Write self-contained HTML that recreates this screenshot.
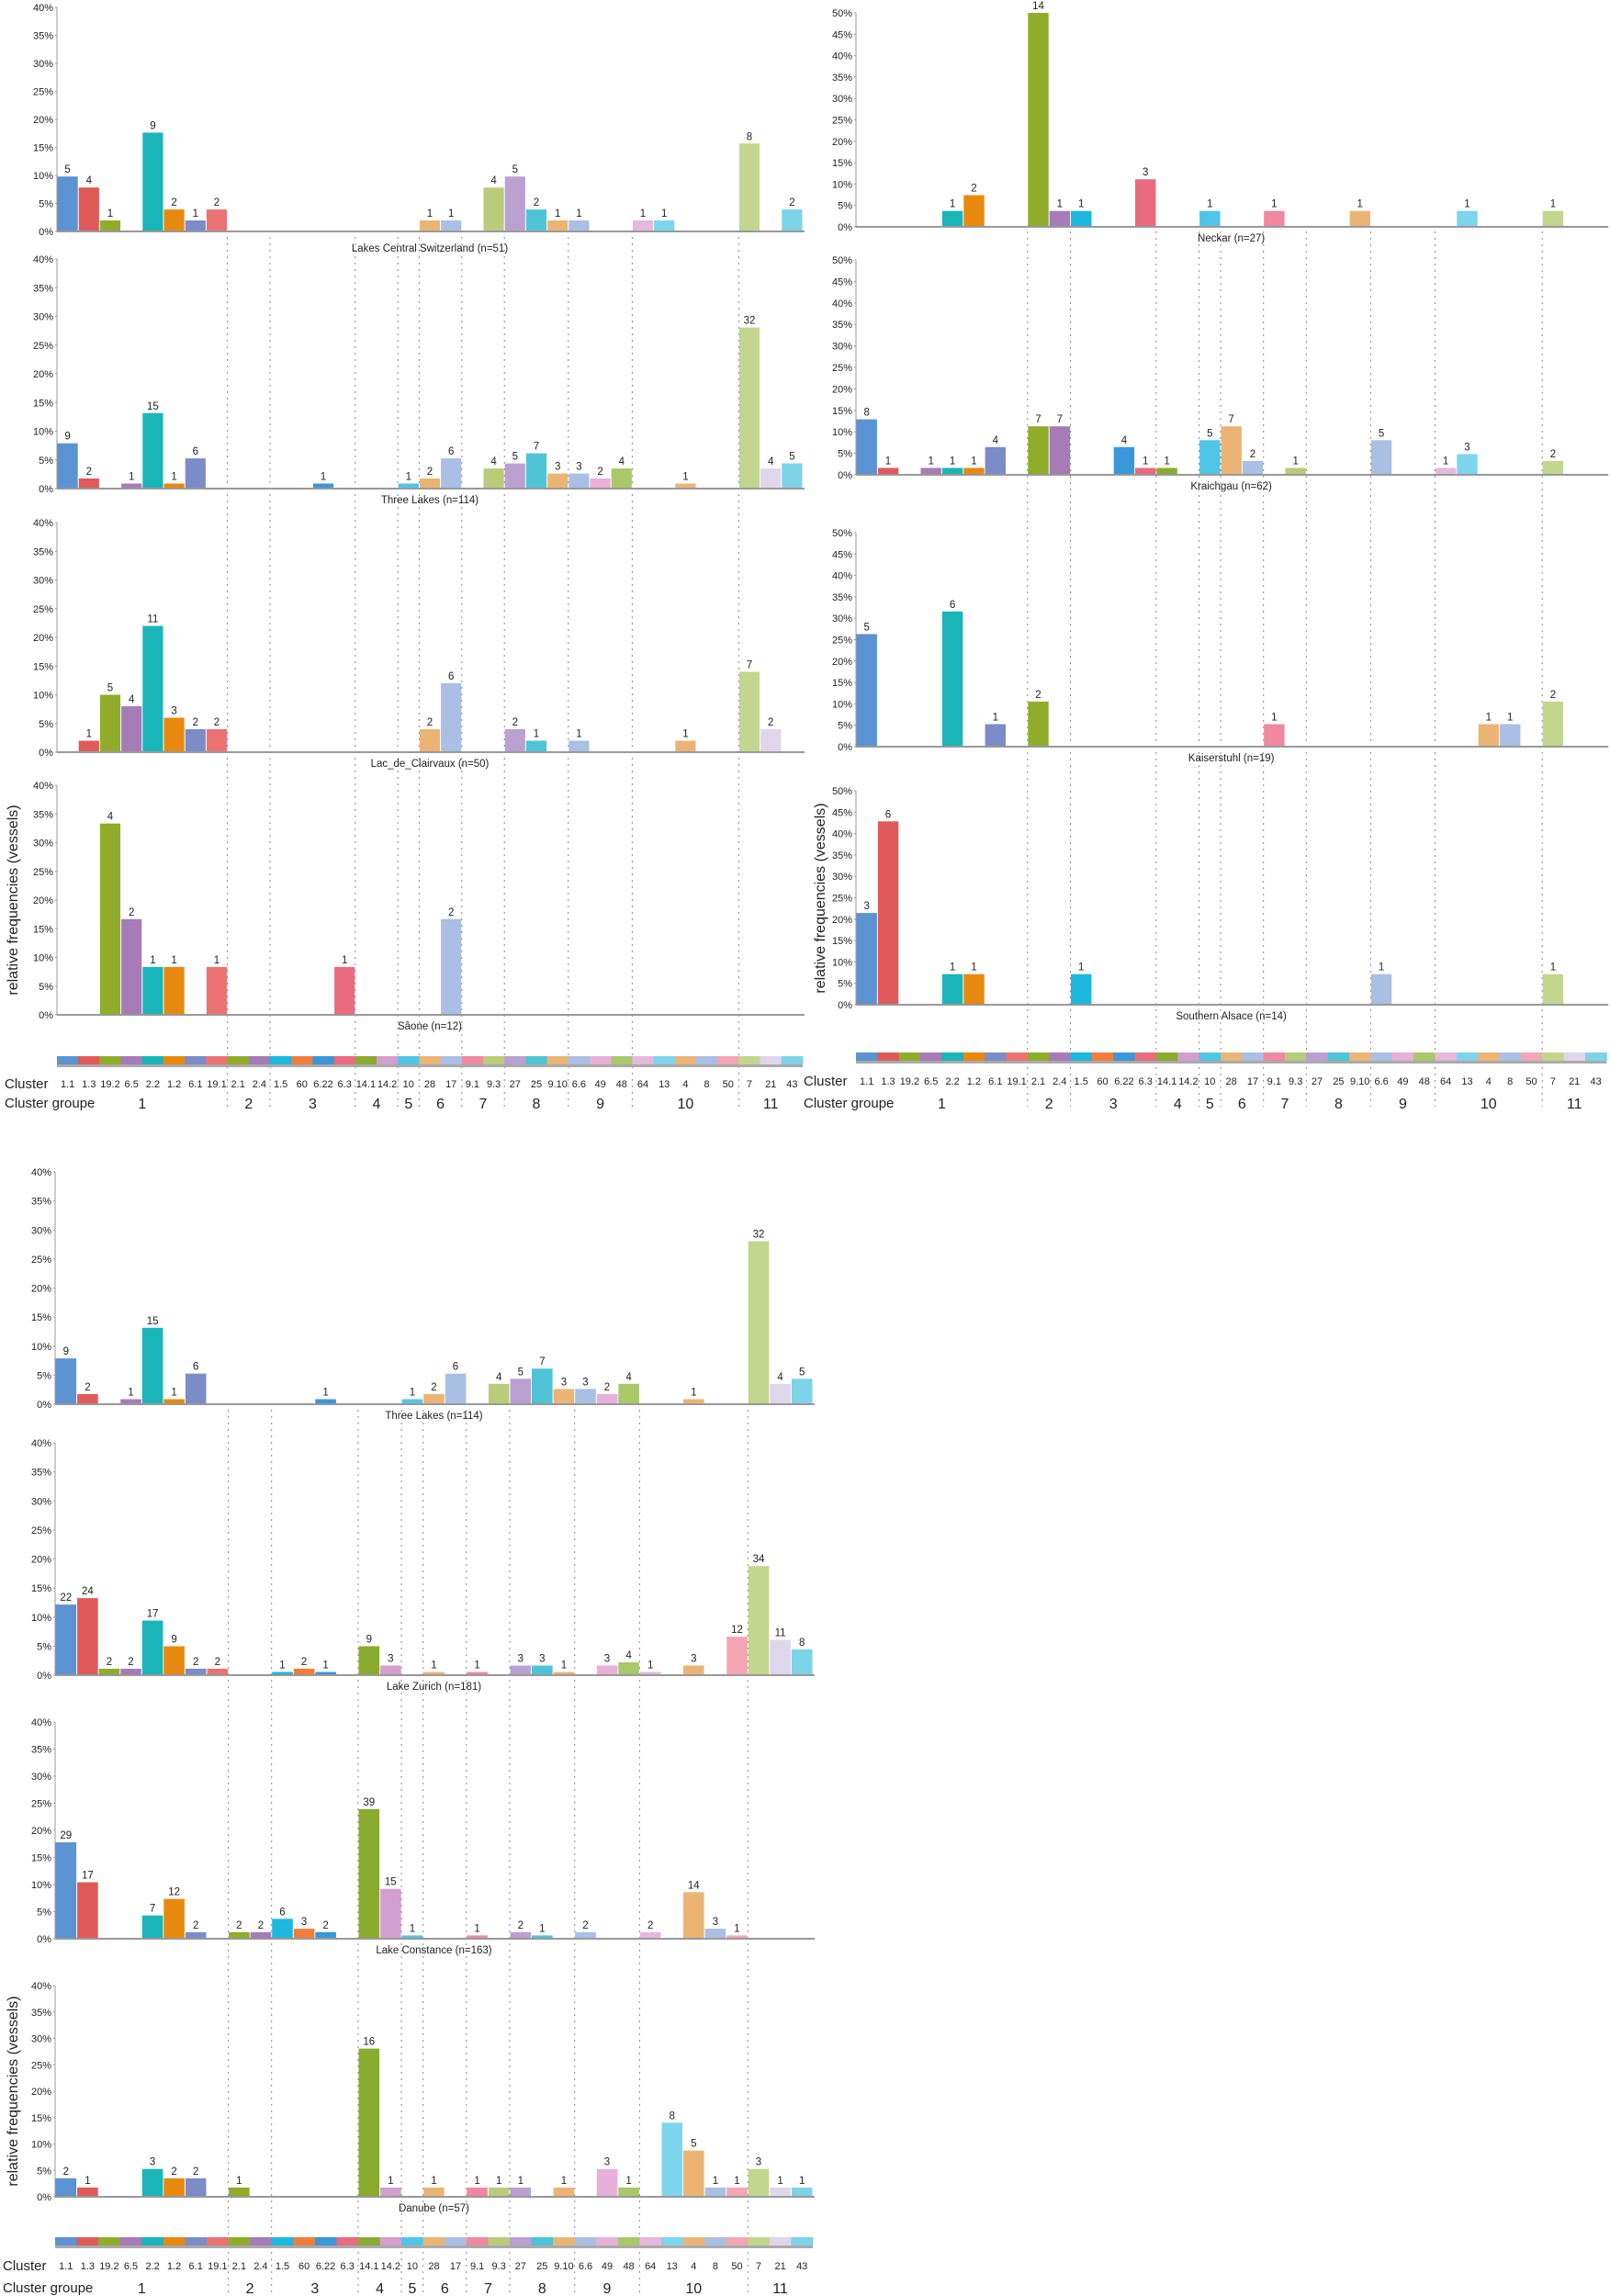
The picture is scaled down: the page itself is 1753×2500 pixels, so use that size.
<!DOCTYPE html>
<html><head><meta charset="utf-8">
<style>
html,body{margin:0;padding:0;background:#fff;}
svg{display:block;font-family:"Liberation Sans",sans-serif;}
</style></head>
<body>
<svg id="s" width="1753" height="2500" viewBox="0 0 1753 2500" xmlns="http://www.w3.org/2000/svg"></svg>
<script>
const C=["#5b93d3","#e05a5a","#8fad2a","#a67bb8","#1ab5b8","#e8890f","#7b8cc8","#ec7272","#8fad2a","#a67bb8","#1cb8de","#f07e3a","#3a97d9","#ea6a7e","#8aab2e","#d29fd0","#4fc5e8","#ecb474","#a9bfe4","#ef88a0","#b9cc7a","#bba0d2","#4ec4d6","#ecb474","#a9bfe4","#e8b0d8","#a8c86a","#e6b8dc","#7dd5ee","#ecb474","#a9bfe4","#f4a6b4","#c2d68e","#e0d6ec","#7dd3e8"];
const L=["1.1","1.3","19.2","6.5","2.2","1.2","6.1","19.1","2.1","2.4","1.5","60","6.22","6.3","14.1","14.2","10","28","17","9.1","9.3","27","25","9.10","6.6","49","48","64","13","4","8","50","7","21","43"];
const GB=[8,10,14,16,17,19,21,24,27,32];
const G=[["1",0,8],["2",8,10],["3",10,14],["4",14,16],["5",16,17],["6",17,19],["7",19,21],["8",21,24],["9",24,27],["10",27,32],["11",32,35]];
const TL={0:9,1:2,3:1,4:15,5:1,6:6,12:1,16:1,17:2,18:6,20:4,21:5,22:7,23:3,24:3,25:2,26:4,29:1,32:32,33:4,34:5};
const cols=[
 {x0:62,bw:23.2,max:40,strip:1150,lab:1179,grp:1200,dt:258,db:1205,ylab:[14,980],panels:[
  ["Lakes Central Switzerland (n=51)",51,8,252,270,{0:5,1:4,2:1,4:9,5:2,6:1,7:2,17:1,18:1,20:4,21:5,22:2,23:1,24:1,27:1,28:1,32:8,34:2}],
  ["Three Lakes (n=114)",114,282,532,544,TL],
  ["Lac_de_Clairvaux (n=50)",50,569,819,831,{1:1,2:5,3:4,4:11,5:3,6:2,7:2,17:2,18:6,21:2,22:1,24:1,29:1,32:7,33:2}],
  ["Sâone (n=12)",12,855,1105,1117,{2:4,3:2,4:1,5:1,7:1,13:1,18:2}]]},
 {x0:932,bw:23.35,max:50,strip:1146,lab:1176,grp:1200,dt:252,db:1205,ylab:[893,978],panels:[
  ["Neckar (n=27)",27,14,247,259,{4:1,5:2,8:14,9:1,10:1,13:3,16:1,19:1,23:1,28:1,32:1}],
  ["Kraichgau (n=62)",62,283,517,529,{0:8,1:1,3:1,4:1,5:1,6:4,8:7,9:7,12:4,13:1,14:1,16:5,17:7,18:2,20:1,24:5,27:1,28:3,32:2}],
  ["Kaiserstuhl (n=19)",19,580,813,825,{0:5,4:6,6:1,8:2,19:1,29:1,30:1,32:2}],
  ["Southern Alsace (n=14)",14,861,1094,1106,{0:3,1:6,4:1,5:1,10:1,24:1,32:1}]]},
 {x0:60,bw:23.57,max:40,strip:2436,lab:2466,grp:2490,dt:1535,db:2497,ylab:[14,2277],panels:[
  ["Three Lakes (n=114)",114,1276,1529,1541,TL],
  ["Lake Zurich (n=181)",181,1571,1824,1836,{0:22,1:24,2:2,3:2,4:17,5:9,6:2,7:2,10:1,11:2,12:1,14:9,15:3,17:1,19:1,21:3,22:3,23:1,25:3,26:4,27:1,29:3,31:12,32:34,33:11,34:8}],
  ["Lake Constance (n=163)",163,1875,2111,2123,{0:29,1:17,4:7,5:12,6:2,8:2,9:2,10:6,11:3,12:2,14:39,15:15,16:1,19:1,21:2,22:1,24:2,27:2,29:14,30:3,31:1}],
  ["Danube (n=57)",57,2162,2392,2404,{0:2,1:1,4:3,5:2,6:2,8:1,14:16,15:1,17:1,19:1,20:1,21:1,23:1,25:3,26:1,28:8,29:5,30:1,31:1,32:3,33:1,34:1}]]}
];
let h='';
function t(x,y,s,sz,a,extra){return `<text x="${x}" y="${y}" font-size="${sz}" text-anchor="${a||'middle'}" fill="#222" ${extra||''}>${s}</text>`;}
for(const c of cols){
 const xe=c.x0+35*c.bw;
 for(const b of GB){const x=(c.x0+b*c.bw).toFixed(1);h+=`<line x1="${x}" y1="${c.dt}" x2="${x}" y2="${c.db}" stroke="#888" stroke-width="1" stroke-dasharray="2,5"/>`;}
 for(const p of c.panels){
  const [title,n,top,base,ty,d]=p;const sc=(base-top)/c.max;
  h+=`<line x1="${c.x0}" y1="${top}" x2="${c.x0}" y2="${base}" stroke="#999" stroke-width="1"/>`;
  for(let v=0;v<=c.max;v+=5){const y=base-v*sc;h+=t(c.x0-4,y+4,v+'%',11,'end');h+=`<line x1="${c.x0-2}" y1="${y}" x2="${c.x0}" y2="${y}" stroke="#999"/>`;}
  for(const k in d){const i=+k,v=Math.min(d[k]/n*100,c.max),hh=v*sc,x=c.x0+i*c.bw;
   h+=`<rect x="${(x+0.5).toFixed(1)}" y="${(base-hh).toFixed(1)}" width="${(c.bw-1).toFixed(1)}" height="${hh.toFixed(1)}" fill="${C[i]}"/>`;
   h+=t((x+c.bw/2).toFixed(1),Math.max(10,(base-hh-4)).toFixed(1),d[k],11.5);}
  h+=`<line x1="${c.x0}" y1="${base}" x2="${xe+2}" y2="${base}" stroke="#999" stroke-width="2"/>`;
  h+=t((c.x0+xe)/2,ty+4,title,11.5);
 }
 for(let i=0;i<35;i++){const x=c.x0+i*c.bw;h+=`<rect x="${x.toFixed(1)}" y="${c.strip}" width="${(c.bw+0.5).toFixed(1)}" height="9" fill="${C[i]}"/>`;
  h+=t((x+c.bw/2).toFixed(1),c.lab+5,L[i],11);}
 h+=`<rect x="${c.x0}" y="${c.strip+9}" width="${35*c.bw}" height="3" fill="#aaa"/>`;
 h+=t(c.x0-57,c.lab+6,'Cluster',15,'start');
 h+=t(c.x0-57,c.grp+6,'Cluster groupe',15,'start');
 for(const g of G){h+=t((c.x0+(g[1]+g[2])/2*c.bw).toFixed(1),c.grp+7,g[0],16);}
 h+=`<text x="${c.ylab[0]}" y="${c.ylab[1]}" font-size="16" fill="#222" text-anchor="middle" transform="rotate(-90 ${c.ylab[0]} ${c.ylab[1]})" dy="5">relative frequencies (vessels)</text>`;
}
document.getElementById('s').innerHTML=h;
</script>
</body></html>
